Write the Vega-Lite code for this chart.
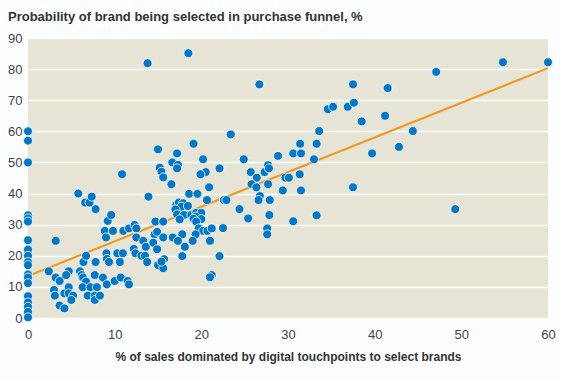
{
  "$schema": "https://vega.github.io/schema/vega-lite/v6.json",
  "width": 520,
  "height": 280,
  "autosize": "none",
  "padding": {"left": 28, "top": 38, "right": 13, "bottom": 61},
  "background": "#fcfdfe",
  "config": {
    "font": "Liberation Sans",
    "view": {"fill": "#e6e4d4", "stroke": null}
  },
  "title": {
    "text": "Probability of brand being selected in purchase funnel, %",
    "anchor": "start",
    "frame": "group",
    "dx": -20,
    "dy": 3,
    "offset": 11,
    "fontSize": 13,
    "fontWeight": "bold",
    "color": "#333333"
  },
  "datasets": {
    "pts": [
      {"x":0,"y":60},{"x":0,"y":57},{"x":0,"y":50},{"x":0,"y":33},{"x":0,"y":32},{"x":0,"y":31},{"x":0,"y":25},{"x":0,"y":22},{"x":0,"y":20},{"x":0,"y":18},{"x":0,"y":17},{"x":0,"y":14},{"x":0,"y":13},{"x":0,"y":11.2},{"x":0,"y":7},{"x":0,"y":5},{"x":0,"y":3.6},{"x":0,"y":2},{"x":0,"y":0.2},
      {"x":2.4,"y":15},{"x":3.2,"y":24.8},{"x":3.2,"y":13},{"x":3.65,"y":11.9},{"x":3.0,"y":9},{"x":3.1,"y":7.2},{"x":3.65,"y":4},{"x":4.2,"y":3.1},
      {"x":4.7,"y":15},{"x":4.4,"y":13.8},{"x":4.2,"y":7.9},{"x":4.7,"y":9.9},{"x":4.7,"y":7.9},{"x":5.2,"y":7.2},{"x":5.0,"y":5.8},
      {"x":5.8,"y":40},{"x":6.0,"y":15},{"x":6.2,"y":13.8},{"x":6.35,"y":13},{"x":6.4,"y":18},{"x":6.7,"y":20},{"x":6.7,"y":11.7},{"x":6.3,"y":9.9},{"x":7.2,"y":9.9},{"x":7.95,"y":9.9},{"x":6.9,"y":7.2},{"x":7.7,"y":7.2},{"x":7.7,"y":5.8},{"x":8.3,"y":7.2},{"x":7.7,"y":13.8},{"x":7.8,"y":18},{"x":8.65,"y":13},
      {"x":6.6,"y":37.1},{"x":7.1,"y":37.1},{"x":7.35,"y":39},{"x":7.8,"y":35},
      {"x":8.85,"y":28},{"x":9.0,"y":25.9},{"x":9.2,"y":31.2},{"x":9.6,"y":33.1},{"x":9.8,"y":28},
      {"x":9.05,"y":20.8},{"x":9.1,"y":19},{"x":9.35,"y":18},{"x":10.3,"y":20.8},{"x":10.95,"y":20.8},{"x":10.6,"y":18},
      {"x":9.1,"y":10.8},{"x":10.0,"y":11.9},{"x":10.7,"y":13},{"x":11.5,"y":11.9},{"x":11.65,"y":10.8},
      {"x":10.85,"y":46.2},{"x":11.0,"y":28},{"x":11.65,"y":28.8},{"x":12.3,"y":29.9},{"x":12.5,"y":28.8},{"x":12.5,"y":25.9},{"x":13.3,"y":24.8},
      {"x":12.2,"y":22.2},{"x":12.4,"y":20.8},{"x":13.1,"y":20},{"x":13.5,"y":20},{"x":13.6,"y":22.9},{"x":13.75,"y":18},{"x":13.9,"y":39},
      {"x":13.8,"y":81.9},
      {"x":14.6,"y":26.9},{"x":14.45,"y":24.2},{"x":14.9,"y":27.7},{"x":14.7,"y":31},{"x":14.9,"y":22.1},{"x":15.0,"y":17},{"x":15.6,"y":16},{"x":15.6,"y":31},{"x":15.6,"y":25.9},{"x":15.7,"y":18.9},{"x":15.4,"y":18.1},
      {"x":15.0,"y":54.2},{"x":17.2,"y":52.9},{"x":16.65,"y":50},{"x":17.3,"y":49.2},{"x":17.2,"y":48.1},{"x":15.2,"y":48.3},{"x":15.4,"y":47},{"x":15.6,"y":45.2},{"x":16.55,"y":43},
      {"x":18.5,"y":85.1},{"x":19.1,"y":56},{"x":20.2,"y":51},{"x":22.1,"y":48.1},{"x":20.5,"y":46.9},{"x":19.9,"y":46.2},{"x":20.9,"y":42},{"x":18.6,"y":39.9},{"x":19.55,"y":39.9},{"x":20.65,"y":37.9},{"x":22.6,"y":37.9},{"x":22.9,"y":37.9},
      {"x":17.1,"y":36.3},{"x":17.4,"y":37.1},{"x":17.9,"y":36.9},{"x":17.7,"y":35.8},{"x":18.45,"y":36},{"x":17.0,"y":34.9},{"x":17.2,"y":33.3},{"x":18.0,"y":33.1},{"x":17.5,"y":31.7},{"x":18.85,"y":33.1},{"x":19.4,"y":33.8},{"x":20.0,"y":33.8},{"x":19.35,"y":32.6},{"x":20.0,"y":31.8},{"x":19.1,"y":31.9},{"x":19.4,"y":31},
      {"x":19.7,"y":28.8},{"x":20.2,"y":28},{"x":20.7,"y":28},{"x":21.2,"y":28.8},{"x":22.5,"y":28.9},{"x":19.35,"y":26.9},{"x":19.0,"y":24.8},{"x":21.0,"y":24.8},
      {"x":17.8,"y":26.9},{"x":16.7,"y":25.9},{"x":17.3,"y":24.8},{"x":18.1,"y":22.9},{"x":17.8,"y":19.9},{"x":22.1,"y":19.9},
      {"x":21.2,"y":13.8},{"x":21.0,"y":13.1},
      {"x":23.4,"y":59},{"x":24.9,"y":51},{"x":24.4,"y":35},{"x":25.4,"y":32},{"x":25.7,"y":46.9},{"x":26.4,"y":45.1},{"x":25.8,"y":43},{"x":26.35,"y":42},{"x":26.75,"y":39.2},{"x":26.6,"y":37.9},{"x":27.3,"y":46.9},{"x":27.7,"y":49.1},{"x":27.8,"y":48.1},{"x":27.7,"y":43},{"x":27.9,"y":37.9},{"x":27.85,"y":33.1},{"x":27.6,"y":28.8},{"x":27.6,"y":26.9},{"x":26.7,"y":75.1},
      {"x":28.85,"y":52.1},{"x":29.7,"y":45.1},{"x":30.1,"y":45.1},{"x":31.35,"y":46.2},{"x":29.4,"y":41},{"x":31.5,"y":41},{"x":30.6,"y":52.9},{"x":31.5,"y":52.9},{"x":31.4,"y":56},{"x":33.3,"y":56},{"x":33.0,"y":51},{"x":33.6,"y":60.1},{"x":34.6,"y":67.1},{"x":35.2,"y":67.9},{"x":36.9,"y":67.9},{"x":37.6,"y":69.2},{"x":37.5,"y":75.1},{"x":38.5,"y":63.2},{"x":41.2,"y":65},{"x":41.5,"y":73.9},{"x":39.7,"y":52.9},{"x":42.8,"y":55},{"x":44.4,"y":60.1},{"x":47.1,"y":79.1},{"x":54.8,"y":82.2},{"x":60,"y":82.2},{"x":49.3,"y":35},{"x":37.5,"y":42},{"x":33.3,"y":33},{"x":30.6,"y":31.1}
    ],
    "fit": [{"x": 0, "y": 13.5}, {"x": 60, "y": 80.3}],
    "ticks": [{"x": 10}, {"x": 20}, {"x": 30}, {"x": 40}, {"x": 50}]
  },
  "encoding": {
    "x": {
      "field": "x", "type": "quantitative",
      "scale": {"domain": [0, 60], "nice": false, "zero": true},
      "axis": {
        "title": "% of sales dominated by digital touchpoints to select brands",
        "titleFontSize": 12, "titleFontWeight": "bold", "titleColor": "#333333", "titlePadding": 10,
        "values": [0, 10, 20, 30, 40, 50, 60],
        "grid": false, "domain": false, "ticks": false,
        "labelFontSize": 13, "labelColor": "#444444", "labelPadding": 10, "labelFlush": false, "labelOverlap": false
      }
    },
    "y": {
      "field": "y", "type": "quantitative",
      "scale": {"domain": [0, 90], "nice": false},
      "axis": {
        "title": null,
        "values": [0, 10, 20, 30, 40, 50, 60, 70, 80, 90],
        "grid": true, "gridColor": "#ffffff", "gridWidth": 1.5, "gridOpacity": 1,
        "domain": false, "ticks": false, "labelOverlap": false, "labelFlush": false,
        "labelFontSize": 13, "labelColor": "#444444", "labelPadding": 6
      }
    }
  },
  "layer": [
    {
      "data": {"name": "ticks"},
      "mark": {"type": "rule", "color": "#8c8c8c", "strokeWidth": 1.2, "opacity": 1},
      "encoding": {
        "x": {"field": "x", "type": "quantitative"},
        "y": {"datum": 0, "type": "quantitative"},
        "y2": {"datum": 2.1}
      }
    },
    {
      "data": {"name": "fit"},
      "mark": {"type": "line", "color": "#f7941d", "strokeWidth": 2}
    },
    {
      "data": {"name": "pts"},
      "mark": {"type": "point", "filled": true, "fill": "#0077c8", "stroke": "#ffffff", "strokeWidth": 0.8, "size": 80, "opacity": 1, "clip": false}
    }
  ]
}
